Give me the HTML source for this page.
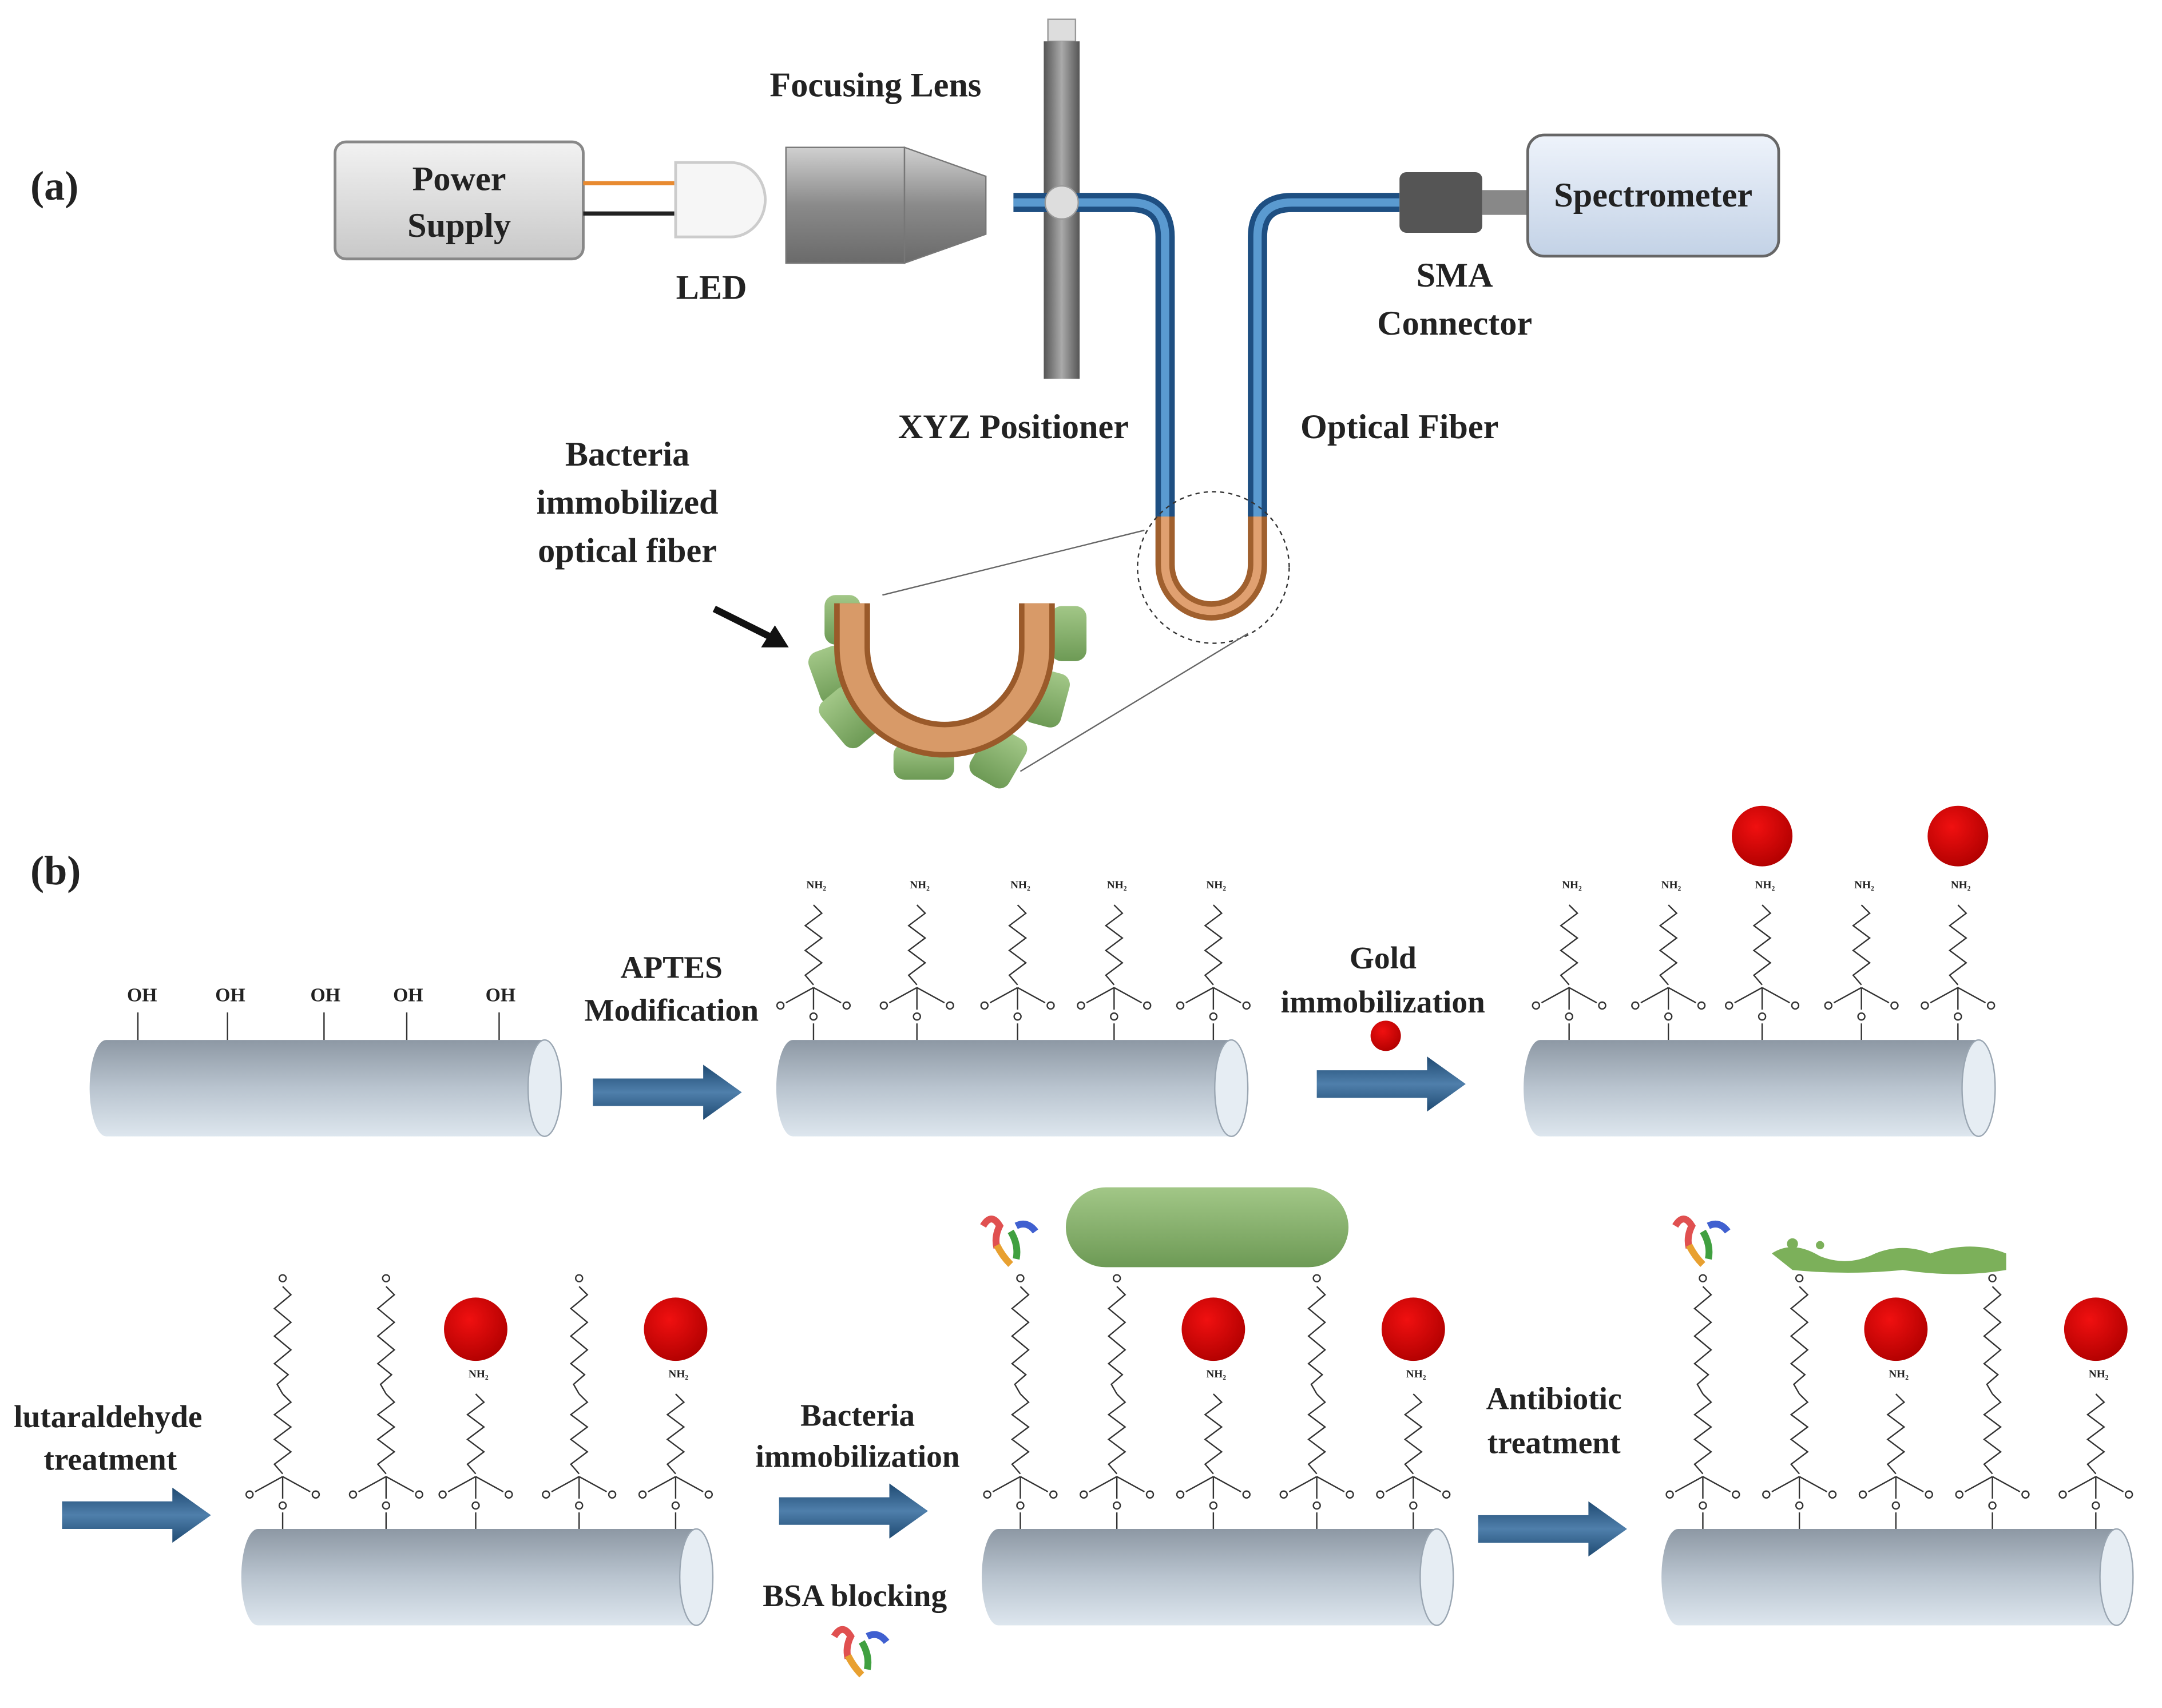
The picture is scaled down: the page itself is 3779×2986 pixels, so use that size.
<!DOCTYPE html>
<html><head><meta charset="utf-8"><style>
html,body{margin:0;padding:0;background:#fff;}
svg{display:block;}
text{font-family:"Liberation Serif",serif;font-weight:bold;fill:#222;}
</style></head><body>
<svg width="3779" height="2986" viewBox="0 0 1568 1240" preserveAspectRatio="none">
<defs>
<linearGradient id="cyl" x1="0" y1="0" x2="0" y2="1"><stop offset="0" stop-color="#8d98a4"/><stop offset="0.5" stop-color="#b9c4cf"/><stop offset="1" stop-color="#dde6ee"/></linearGradient>
<linearGradient id="arr" x1="0" y1="0" x2="0" y2="1"><stop offset="0" stop-color="#1f4a72"/><stop offset="0.5" stop-color="#4f7fab"/><stop offset="1" stop-color="#1f4a72"/></linearGradient>
<linearGradient id="box" x1="0" y1="0" x2="0" y2="1"><stop offset="0" stop-color="#f2f2f2"/><stop offset="1" stop-color="#c8c8c8"/></linearGradient>
<linearGradient id="lens" x1="0" y1="0" x2="0" y2="1"><stop offset="0" stop-color="#d0d0d0"/><stop offset="0.5" stop-color="#8a8a8a"/><stop offset="1" stop-color="#6a6a6a"/></linearGradient>
<linearGradient id="spec" x1="0" y1="0" x2="0" y2="1"><stop offset="0" stop-color="#eef3fb"/><stop offset="1" stop-color="#c3d2e6"/></linearGradient>
<linearGradient id="bar" x1="0" y1="0" x2="1" y2="0"><stop offset="0" stop-color="#555"/><stop offset="0.5" stop-color="#aaa"/><stop offset="1" stop-color="#555"/></linearGradient>
<linearGradient id="bact" x1="0" y1="0" x2="0" y2="1"><stop offset="0" stop-color="#a2c787"/><stop offset="1" stop-color="#6d9a55"/></linearGradient>
<radialGradient id="gold" cx="0.4" cy="0.35" r="0.7"><stop offset="0" stop-color="#f01010"/><stop offset="1" stop-color="#b00000"/></radialGradient>
<g id="base" stroke="#333" stroke-width="1" fill="none">
<line x1="0" y1="0" x2="0" y2="-12"/><circle cx="0" cy="-17" r="2.5"/><line x1="0" y1="-22" x2="0" y2="-38"/>
<line x1="0" y1="-38" x2="-20" y2="-27"/><line x1="0" y1="-38" x2="20" y2="-27"/>
<circle cx="-24" cy="-25" r="2.5"/><circle cx="24" cy="-25" r="2.5"/>
<polyline points="0,-40 -6,-47 6,-56 -6,-65 6,-74 -6,-83 6,-92 0,-98"/>
</g>
<g id="glut" stroke="#333" stroke-width="1" fill="none">
<use href="#base"/>
<polyline points="0,-98 -4,-105 4,-112 -6,-120 6,-130 -6,-140 6,-150 -6,-160 6,-170 0,-176"/>
<circle cx="0" cy="-182" r="2.5"/>
</g>
<g id="cylinder">
<path d="M12,0 H330 V70 H12 A12,35 0 0 1 12,0 Z" fill="url(#cyl)"/>
<ellipse cx="330" cy="35" rx="12" ry="35" fill="#e6edf3" stroke="#9aa6b2"/>
</g>
<g id="barrow"><path d="M0,-10 H80 V-20 L108,0 L80,20 V10 H0 Z" fill="url(#arr)"/></g>
<g id="prot">
<path d="M0,0 q6,-10 12,0 q-4,8 -2,16" stroke="#e05050" stroke-width="5" fill="none"/>
<path d="M10,14 q4,8 10,14" stroke="#e8a030" stroke-width="5" fill="none"/>
<path d="M20,4 q6,10 4,20" stroke="#40a040" stroke-width="5" fill="none"/>
<path d="M24,0 q8,-4 14,4" stroke="#4060d0" stroke-width="5" fill="none"/>
</g>
</defs>

<text x="22" y="145" font-size="30" font-weight="normal">(a)</text>
<rect x="243" y="103" width="180" height="85" rx="8" fill="url(#box)" stroke="#888" stroke-width="2"/>
<text x="333" y="138" font-size="25" text-anchor="middle">Power</text>
<text x="333" y="172" font-size="25" text-anchor="middle">Supply</text>
<line x1="423" y1="133" x2="495" y2="133" stroke="#e88a30" stroke-width="3"/>
<line x1="423" y1="155" x2="495" y2="155" stroke="#222" stroke-width="3"/>
<path d="M490,118 H530 A25,27 0 0 1 530,172 H490 Z" fill="#f6f6f6" stroke="#ccc" stroke-width="2"/>
<text x="516" y="217" font-size="25" text-anchor="middle">LED</text>
<rect x="570" y="107" width="86" height="84" fill="url(#lens)" stroke="#777"/>
<path d="M656,107 L715,128 V170 L656,191 Z" fill="url(#lens)" stroke="#777"/>
<text x="635" y="70" font-size="25" text-anchor="middle">Focusing Lens</text>
<rect x="760" y="14" width="20" height="16" fill="#ddd" stroke="#999"/>
<rect x="757" y="30" width="26" height="245" fill="url(#bar)"/>
<path d="M735,147 H820 Q845,147 845,172 V375" stroke="#1e4f82" stroke-width="14" fill="none"/>
<path d="M735,147 H820 Q845,147 845,172 V375" stroke="#5a9ad0" stroke-width="6" fill="none"/>
<path d="M912,375 V172 Q912,147 937,147 H1015" stroke="#1e4f82" stroke-width="14" fill="none"/>
<path d="M912,375 V172 Q912,147 937,147 H1015" stroke="#5a9ad0" stroke-width="6" fill="none"/>
<path d="M845,375 V410 A33.5,33.5 0 0 0 912,410 V375" stroke="#a0602e" stroke-width="14" fill="none"/>
<path d="M845,375 V410 A33.5,33.5 0 0 0 912,410 V375" stroke="#e0a070" stroke-width="6" fill="none"/>
<circle cx="770" cy="147" r="12" fill="#ddd" stroke="#999"/>
<circle cx="880" cy="412" r="55" fill="none" stroke="#333" stroke-dasharray="3,3"/>
<line x1="830" y1="385" x2="640" y2="432" stroke="#666"/>
<line x1="905" y1="460" x2="740" y2="560" stroke="#666"/>
<g fill="url(#bact)">
<rect x="590" y="470" width="28" height="40" rx="8" transform="rotate(-20 604 490)"/>
<rect x="600" y="500" width="30" height="42" rx="8" transform="rotate(-40 615 520)"/>
<rect x="648" y="540" width="44" height="26" rx="8"/>
<rect x="708" y="530" width="32" height="40" rx="8" transform="rotate(30 724 550)"/>
<rect x="745" y="487" width="28" height="40" rx="8" transform="rotate(15 759 507)"/>
<rect x="762" y="440" width="26" height="40" rx="8"/>
<rect x="598" y="432" width="26" height="36" rx="8"/>
</g>
<path d="M618,438 V470 A67,67 0 0 0 752,470 V438" stroke="#9a5a2a" stroke-width="26" fill="none"/>
<path d="M618,438 V470 A67,67 0 0 0 752,470 V438" stroke="#d89a68" stroke-width="18" fill="none"/>
<line x1="518" y1="442" x2="560" y2="463" stroke="#111" stroke-width="5"/>
<path d="M572,470 L552,470 L562,454 Z" fill="#111"/>
<text x="455" y="338" font-size="25" text-anchor="middle">Bacteria</text>
<text x="455" y="373" font-size="25" text-anchor="middle">immobilized</text>
<text x="455" y="408" font-size="25" text-anchor="middle">optical fiber</text>
<text x="735" y="318" font-size="25" text-anchor="middle">XYZ Positioner</text>
<text x="1015" y="318" font-size="25" text-anchor="middle">Optical Fiber</text>
<rect x="1015" y="125" width="60" height="44" rx="5" fill="#555"/>
<rect x="1075" y="138" width="33" height="18" fill="#888"/>
<rect x="1108" y="98" width="182" height="88" rx="12" fill="url(#spec)" stroke="#666" stroke-width="2"/>
<text x="1199" y="150" font-size="25" text-anchor="middle">Spectrometer</text>
<text x="1055" y="208" font-size="25" text-anchor="middle">SMA</text>
<text x="1055" y="243" font-size="25" text-anchor="middle">Connector</text>

<text x="22" y="642" font-size="30" font-weight="normal">(b)</text>
<use href="#cylinder" x="65" y="755"/>
<use href="#cylinder" x="563" y="755"/>
<use href="#cylinder" x="1105" y="755"/>
<use href="#cylinder" x="175" y="1110"/>
<use href="#cylinder" x="712" y="1110"/>
<use href="#cylinder" x="1205" y="1110"/>
<use href="#barrow" x="430" y="793"/>
<use href="#barrow" x="955" y="787"/>
<use href="#barrow" x="45" y="1100"/>
<use href="#barrow" x="565" y="1097"/>
<use href="#barrow" x="1072" y="1110"/>
<g stroke="#333"><line x1="100" y1="735" x2="100" y2="755"/><line x1="165" y1="735" x2="165" y2="755"/><line x1="235" y1="735" x2="235" y2="755"/><line x1="295" y1="735" x2="295" y2="755"/><line x1="362" y1="735" x2="362" y2="755"/></g>
<g font-size="14" text-anchor="middle"><text x="103" y="727">OH</text><text x="167" y="727">OH</text><text x="236" y="727">OH</text><text x="296" y="727">OH</text><text x="363" y="727">OH</text></g>
<use href="#base" x="590" y="755"/><use href="#base" x="665" y="755"/><use href="#base" x="738" y="755"/><use href="#base" x="808" y="755"/><use href="#base" x="880" y="755"/>
<use href="#base" x="1138" y="755"/><use href="#base" x="1210" y="755"/><use href="#base" x="1278" y="755"/><use href="#base" x="1350" y="755"/><use href="#base" x="1420" y="755"/>
<g font-size="8" text-anchor="middle">
<text x="592" y="645">NH₂</text><text x="667" y="645">NH₂</text><text x="740" y="645">NH₂</text><text x="810" y="645">NH₂</text><text x="882" y="645">NH₂</text>
<text x="1140" y="645">NH₂</text><text x="1212" y="645">NH₂</text><text x="1280" y="645">NH₂</text><text x="1352" y="645">NH₂</text><text x="1422" y="645">NH₂</text>
</g>
<circle cx="1278" cy="607" r="22" fill="url(#gold)"/><circle cx="1420" cy="607" r="22" fill="url(#gold)"/>
<circle cx="1005" cy="752" r="11" fill="url(#gold)"/>
<text x="487" y="710" font-size="23" text-anchor="middle">APTES</text>
<text x="487" y="741" font-size="23" text-anchor="middle">Modification</text>
<text x="1003" y="703" font-size="23" text-anchor="middle">Gold</text>
<text x="1003" y="735" font-size="23" text-anchor="middle">immobilization</text>
<use href="#glut" x="205" y="1110"/><use href="#glut" x="280" y="1110"/><use href="#base" x="345" y="1110"/><use href="#glut" x="420" y="1110"/><use href="#base" x="490" y="1110"/>
<use href="#glut" x="740" y="1110"/><use href="#glut" x="810" y="1110"/><use href="#base" x="880" y="1110"/><use href="#glut" x="955" y="1110"/><use href="#base" x="1025" y="1110"/>
<use href="#glut" x="1235" y="1110"/><use href="#glut" x="1305" y="1110"/><use href="#base" x="1375" y="1110"/><use href="#glut" x="1445" y="1110"/><use href="#base" x="1520" y="1110"/>
<g font-size="8" text-anchor="middle">
<text x="347" y="1000">NH₂</text><text x="492" y="1000">NH₂</text><text x="882" y="1000">NH₂</text><text x="1027" y="1000">NH₂</text><text x="1377" y="1000">NH₂</text><text x="1522" y="1000">NH₂</text>
</g>
<circle cx="345" cy="965" r="23" fill="url(#gold)"/><circle cx="490" cy="965" r="23" fill="url(#gold)"/>
<circle cx="880" cy="965" r="23" fill="url(#gold)"/><circle cx="1025" cy="965" r="23" fill="url(#gold)"/>
<circle cx="1375" cy="965" r="23" fill="url(#gold)"/><circle cx="1520" cy="965" r="23" fill="url(#gold)"/>
<rect x="773" y="862" width="205" height="58" rx="29" fill="url(#bact)"/>
<path d="M1285,910 Q1300,900 1320,912 Q1340,920 1360,910 Q1380,902 1400,910 Q1430,900 1455,910 L1455,922 Q1420,928 1380,922 Q1340,926 1300,922 Z" fill="#7cb05a"/>
<circle cx="1300" cy="903" r="4" fill="#7cb05a"/><circle cx="1320" cy="904" r="3" fill="#7cb05a"/>
<use href="#prot" x="713" y="890"/>
<use href="#prot" x="1215" y="890"/>
<use href="#prot" x="605" y="1188"/>
<text x="10" y="1036" font-size="23">lutaraldehyde</text>
<text x="80" y="1067" font-size="23" text-anchor="middle">treatment</text>
<text x="622" y="1035" font-size="23" text-anchor="middle">Bacteria</text>
<text x="622" y="1065" font-size="23" text-anchor="middle">immobilization</text>
<text x="620" y="1166" font-size="23" text-anchor="middle">BSA blocking</text>
<text x="1127" y="1023" font-size="23" text-anchor="middle">Antibiotic</text>
<text x="1127" y="1055" font-size="23" text-anchor="middle">treatment</text>
</svg>
</body></html>
